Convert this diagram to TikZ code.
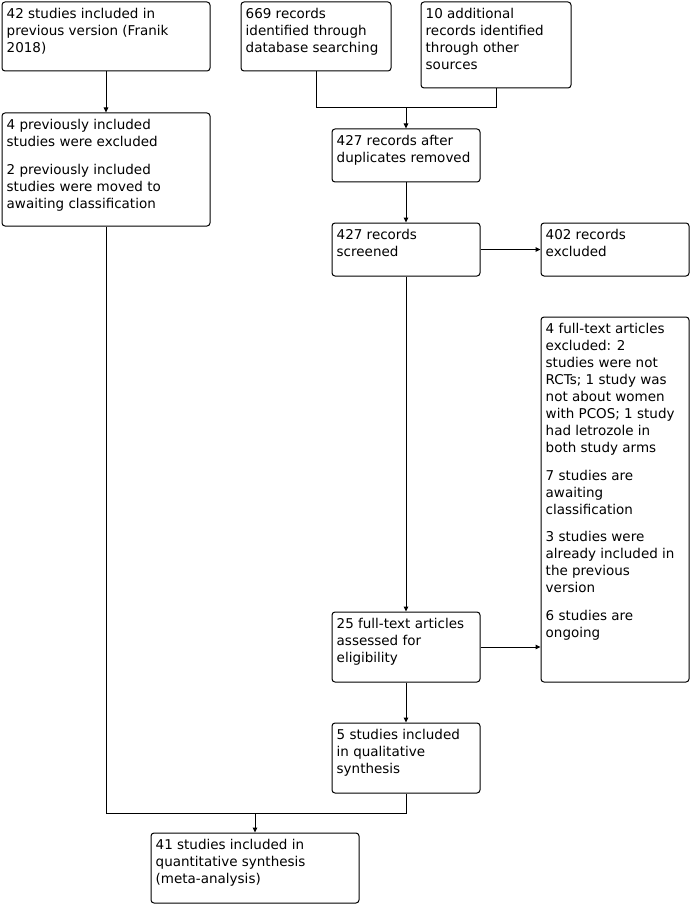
\documentclass[tikz,border=0pt]{standalone}
\usepackage{fontspec}
\setmainfont{DejaVu Sans}
\usetikzlibrary{arrows.meta}
\tikzset{
  box/.style={draw, line width=1pt, rounded corners=3pt, inner sep=0pt, fill=white},
  txt/.style={inner sep=0pt, align=left, anchor=north west, font=\fontsize{13.5}{17}\selectfont},
  conn/.style={line width=1pt},
  arr/.style={line width=1pt, -{Triangle[length=5pt,width=4.5pt]}}
}
\newcommand\bx[6]{%
  \node[box, minimum width=#4pt, minimum height=#5pt, anchor=north west] (#1) at (#2,#3) {};
  \node[txt] (#1t) at ([shift={(5pt,-7pt)}]#1.north west) {#6};
}
\begin{document}
\begin{tikzpicture}[x=1pt,y=-1pt]
\useasboundingbox[fill=white] (0,0) rectangle (692,904);
\bx{A}{1.5}{1.5}{208}{69}{42 studies included in\\previous version (Franik\\2018)}
\bx{B}{240.5}{1.5}{150}{69}{669 records\\identified through\\database searching}
\bx{C}{420.5}{1.5}{150}{86}{10 additional\\records identified\\through other\\sources}
\bx{D}{1.5}{112.5}{208}{113}{4 previously included\\studies were excluded\\[10.5pt]2 previously included\\studies were moved to\\awaiting classification}
\bx{E}{331.5}{128.5}{148}{53}{427 records after\\duplicates removed}
\bx{F}{331.5}{222.5}{148}{53}{427 records\\screened}
\bx{G}{540.5}{222.5}{148}{53}{402 records\\excluded}
\bx{H}{540.5}{316.5}{148}{365}{4 full-text articles\\excluded: 2\\studies were not\\RCTs; 1 study was\\not about women\\with PCOS; 1 study\\had letrozole in\\both study arms\\[10.5pt]7 studies are\\awaiting\\classification\\[10.5pt]3 studies were\\already included in\\the previous\\version\\[10.5pt]6 studies are\\ongoing}
\bx{I}{331.5}{611.5}{148}{70}{25 full-text articles\\assessed for\\eligibility}
\bx{J}{331.5}{722.5}{148}{70}{5 studies included\\in qualitative\\synthesis}
\bx{K}{150.5}{832.5}{208}{70}{41 studies included in\\quantitative synthesis\\(meta-analysis)}
\draw[arr] (A.south) -- (D.north);
\coordinate (m) at (E.north |- 0,107.5);
\draw[conn] (B.south) |- (m) -| (C.south);
\draw[arr] (m) -- (E.north);
\draw[arr] (E.south) -- (F.north);
\draw[arr] (F.east) -- (G.west);
\draw[arr] (F.south) -- (I.north);
\draw[arr] (I.east) -- (I.east -| H.west);
\draw[arr] (I.south) -- (J.north);
\coordinate (n) at (K.north |- 0,813.5);
\draw[conn] (D.south) |- (n) -| (J.south);
\draw[arr] (n) -- (K.north);
\end{tikzpicture}
\end{document}
